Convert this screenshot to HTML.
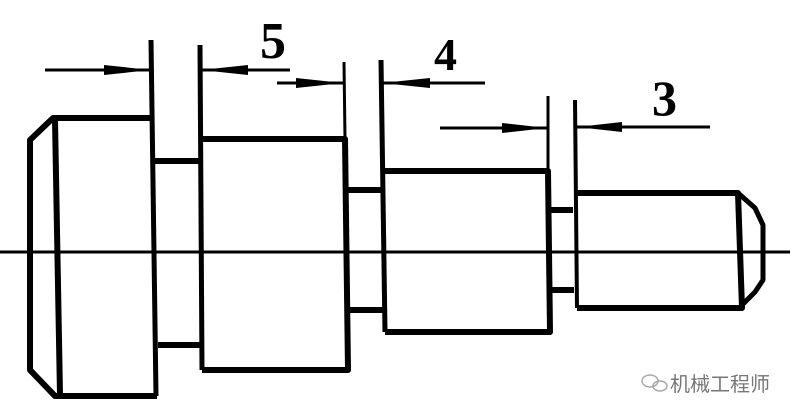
<!DOCTYPE html>
<html><head><style>
html,body{margin:0;padding:0;background:#fff;}
svg{display:block;}
text{font-family:"Liberation Serif",serif;fill:#000;}
</style></head><body>
<svg width="791" height="416" viewBox="0 0 791 416" xmlns="http://www.w3.org/2000/svg">
<g stroke="#000" fill="none" stroke-linejoin="round">
<!-- centerline -->
<line x1="0" y1="252" x2="790" y2="252" stroke-width="3"/>
<!-- head -->
<path d="M153,118 L53,118 L30,140 L30,370 L55,396 L157,396" stroke-width="6"/>
<line x1="55" y1="120" x2="60" y2="395" stroke-width="6"/>
<line x1="151" y1="40" x2="156" y2="396" stroke-width="5"/>
<!-- neck1 -->
<line x1="155" y1="161" x2="200" y2="161" stroke-width="6"/>
<line x1="158" y1="345" x2="202" y2="345" stroke-width="6"/>
<!-- cyl2 -->
<line x1="200" y1="45" x2="202" y2="370" stroke-width="5"/>
<path d="M202,139 L345,139 L348,370 L202,370" stroke-width="6"/>
<line x1="344" y1="62" x2="345" y2="139" stroke-width="3"/>
<!-- neck2 -->
<line x1="348" y1="190" x2="383" y2="190" stroke-width="6"/>
<line x1="350" y1="310" x2="384" y2="310" stroke-width="6"/>
<!-- cyl3 -->
<line x1="381" y1="60" x2="385" y2="332" stroke-width="5"/>
<path d="M385,171 L548,171 L550,332 L385,332" stroke-width="6"/>
<line x1="548" y1="96" x2="548" y2="171" stroke-width="3"/>
<!-- neck3 -->
<line x1="550" y1="210" x2="573" y2="210" stroke-width="6"/>
<line x1="551" y1="290" x2="574" y2="290" stroke-width="6"/>
<!-- cyl4 -->
<line x1="575" y1="100" x2="577" y2="308" stroke-width="4"/>
<path d="M576,193 L738,193 L742,308 L577,308" stroke-width="6"/>
<path d="M738,193 L755,208 L763,225 L763,280 L755,292 L742,305" stroke-width="5"/>
<!-- dimension lines -->
<line x1="45" y1="70" x2="152" y2="70" stroke-width="3"/>
<line x1="290" y1="70" x2="200" y2="70" stroke-width="3"/>
<line x1="277" y1="83" x2="344" y2="83" stroke-width="3"/>
<line x1="485" y1="83" x2="381" y2="83" stroke-width="3"/>
<line x1="440" y1="128" x2="548" y2="128" stroke-width="3"/>
<line x1="710" y1="127" x2="576" y2="127" stroke-width="3"/>
</g>
<g fill="#000">
<polygon points="104,65 151,70 104,75"/>
<polygon points="248,65 201,70 248,75"/>
<polygon points="296,78 343,83 296,88"/>
<polygon points="430,78 382,83 430,88"/>
<polygon points="502,123 547,128 502,133"/>
<polygon points="622,122 577,127 622,132"/>
</g>
<text x="260" y="58" font-size="52" font-weight="bold">5</text>
<text x="434" y="70" font-size="46" font-weight="bold">4</text>
<text x="652" y="115" font-size="50" font-weight="bold">3</text>
<text x="670" y="391" font-size="20" style="font-family:'Liberation Sans','Noto Sans CJK SC',sans-serif;fill:#777">机械工程师</text>
<g stroke="#aaa" fill="none" stroke-width="1.5">
<ellipse cx="650" cy="381" rx="8" ry="6"/>
<ellipse cx="660" cy="386" rx="7" ry="5"/>
</g>
</svg>
</body></html>
